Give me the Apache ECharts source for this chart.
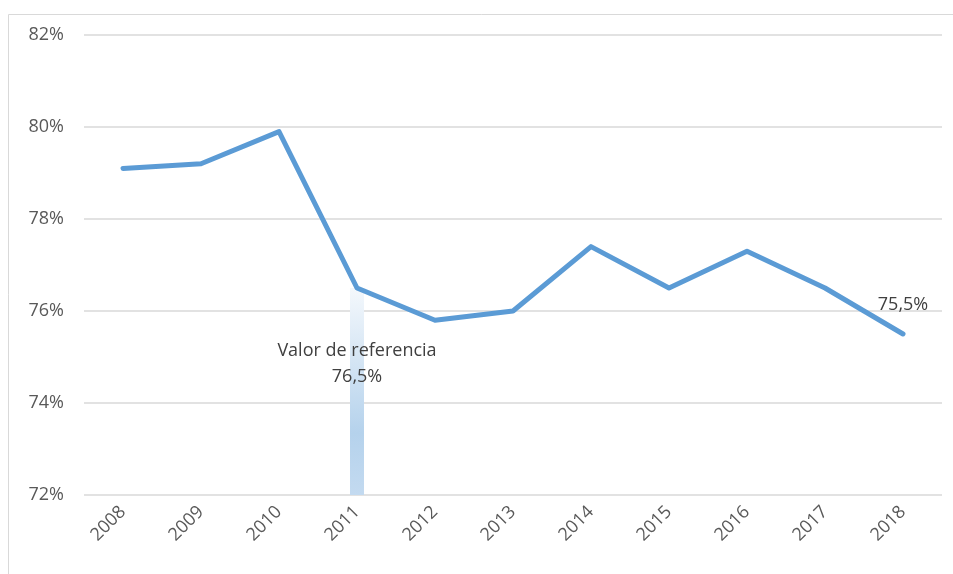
<!DOCTYPE html>
<html>
<head>
	<meta charset="utf-8" />
	<script src="https://cdn.jsdelivr.net/npm/echarts@6/dist/echarts.min.js"></script>
	<title>Valor de referencia</title>
	<style>
		html, body { margin: 0; padding: 0; background: #fff; }
		#c { width: 953px; height: 574px; }
	</style>
</head>
<body>
	<div id="c"></div>
	<script>
		// años y valores (%)
		var years = ['2008', '2009', '2010', '2011', '2012', '2013', '2014', '2015', '2016', '2017', '2018'];
		var values = [79.1, 79.2, 79.9, 76.5, 75.8, 76.0, 77.4, 76.5, 77.3, 76.5, 75.5];
		var refYear = '2011';
		var refValue = 76.5;
		var refText = 'Valor de referencia';

		var fmt = function (v) { return String(v.toFixed(1)).replace('.', ',') + '%'; };

		var refData = years.map(function (y) { return y === refYear ? refValue : '-'; });
		var lineData = values.map(function (v, i) {
			if (i === values.length - 1) {
				return {
					value: v,
					label: {
						show: true, position: 'top', distance: 20,
						formatter: function (p) { return fmt(p.value); },
						color: '#404040', fontSize: 18, fontFamily: 'Open Sans'
					}
				};
			}
			return v;
		});

		var myChart = echarts.init(document.getElementById('c'));
		var option = {
			animation: false,
			graphic: [{
				type: 'rect', silent: true,
				shape: { x: 8.5, y: 14.5, width: 980, height: 600 },
				style: { fill: 'none', stroke: '#d9d9d9', lineWidth: 1 }
			}],
			grid: { left: 84, right: 11, top: 35, bottom: 79 },
			xAxis: {
				type: 'category',
				data: years,
				boundaryGap: true,
				axisLine: { show: false },
				axisTick: { show: false },
				axisLabel: {
					rotate: 45, margin: 14, interval: 0,
					color: '#595959', fontSize: 18, fontFamily: 'Open Sans'
				}
			},
			yAxis: {
				type: 'value',
				min: 72, max: 82, interval: 2,
				axisLine: { show: false },
				axisTick: { show: false },
				axisLabel: {
					margin: 20,
					formatter: function (v) { return v + '%'; },
					color: '#595959', fontSize: 18, fontFamily: 'Open Sans'
				},
				splitLine: { lineStyle: { color: '#d9d9d9', width: 1.5 } }
			},
			series: [
				{
					name: 'referencia',
					type: 'bar',
					data: refData,
					barWidth: 14,
					itemStyle: {
						color: new echarts.graphic.LinearGradient(0, 0, 0, 1, [
							{ offset: 0, color: '#f4f8fc' },
							{ offset: 0.7, color: '#b5d2ec' },
							{ offset: 1, color: '#c3daf0' }
						])
					},
					label: {
						show: true,
						position: 'insideTop',
						offset: [0, 45],
						formatter: function (p) { return refText + '\n' + fmt(p.value); },
						color: '#404040', fontSize: 18, lineHeight: 26, fontFamily: 'Open Sans'
					},
					z: 1
				},
				{
					name: 'valor',
					type: 'line',
					data: lineData,
					symbol: 'circle',
					symbolSize: 0,
					showSymbol: true,
					lineStyle: { color: '#5b9bd5', width: 5, cap: 'round', join: 'round' },
					itemStyle: { color: '#5b9bd5' },
					z: 3
				}
			]
		};
		myChart.setOption(option);
	</script>
</body>
</html>
